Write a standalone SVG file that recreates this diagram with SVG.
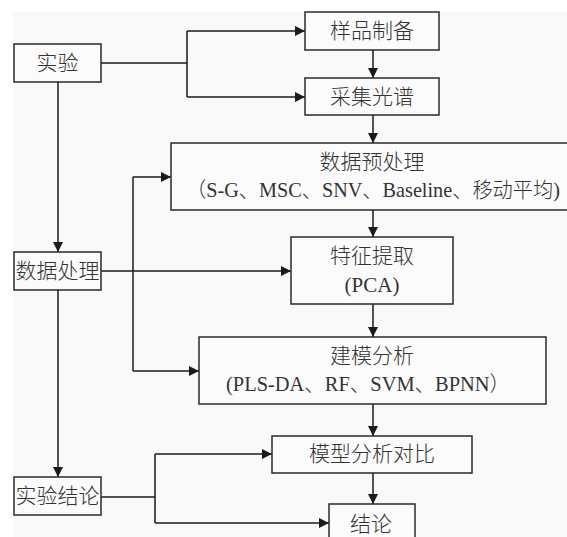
<svg xmlns="http://www.w3.org/2000/svg" width="567" height="537" viewBox="0 0 567 537">
<defs>
<marker id="ah" viewBox="0 0 10 10" refX="10" refY="5" markerWidth="10" markerHeight="10" markerUnits="userSpaceOnUse" orient="auto">
<path d="M0,0 L10,5 L0,10 Z" fill="#1a1a1a"/>
</marker>
<style>
.box{fill:#fbfbfb;stroke:#2a2a2a;stroke-width:1.5}
.t{font-family:"Liberation Serif","Noto Sans CJK SC",serif;font-size:21px;font-weight:300;fill:#333333;text-anchor:middle;dominant-baseline:central}
.c{fill:none;stroke:#1a1a1a;stroke-width:1.5}
</style>
</defs>
<rect x="0" y="0" width="567" height="537" fill="#ffffff"/>
<rect x="13" y="12" width="554" height="525" fill="#f9f9f9"/>
<g id="connectors">
<path class="c" d="M101,63 H187 M187,31 V97"/>
<path class="c" d="M187,31 H305" marker-end="url(#ah)"/>
<path class="c" d="M187,97 H305" marker-end="url(#ah)"/>
<path class="c" d="M58,82 V252" marker-end="url(#ah)"/>
<path class="c" d="M58,290 V477" marker-end="url(#ah)"/>
<path class="c" d="M373,50 V78" marker-end="url(#ah)"/>
<path class="c" d="M373,115 V143" marker-end="url(#ah)"/>
<path class="c" d="M373,210 V237" marker-end="url(#ah)"/>
<path class="c" d="M373,304 V337" marker-end="url(#ah)"/>
<path class="c" d="M373,404 V436" marker-end="url(#ah)"/>
<path class="c" d="M373,473 V504" marker-end="url(#ah)"/>
<path class="c" d="M101,271 H291" marker-end="url(#ah)"/>
<path class="c" d="M133,177 V371"/>
<path class="c" d="M133,177 H171" marker-end="url(#ah)"/>
<path class="c" d="M133,371 H199" marker-end="url(#ah)"/>
<path class="c" d="M101,497 H155 M155,454 V523"/>
<path class="c" d="M155,454 H272" marker-end="url(#ah)"/>
<path class="c" d="M155,523 H329" marker-end="url(#ah)"/>
</g>
<g id="n_shiyan"><rect class="box" x="14" y="44" width="87" height="38"/><text class="t" x="57.5" y="63">实验</text></g>
<g id="n_yangpin"><rect class="box" x="305" y="12" width="134" height="38"/><text class="t" x="372" y="31">样品制备</text></g>
<g id="n_caiji"><rect class="box" x="305" y="78" width="134" height="37"/><text class="t" x="372" y="97">采集光谱</text></g>
<g id="n_yuchuli"><rect class="box" x="171" y="143" width="410" height="67"/><text class="t" x="372" y="162">数据预处理</text><text class="t" x="373" y="190" textLength="374" lengthAdjust="spacingAndGlyphs">（S-G、MSC、SNV、Baseline、移动平均)</text></g>
<g id="n_tezheng"><rect class="box" x="291" y="237" width="162" height="67"/><text class="t" x="372" y="256">特征提取</text><text class="t" x="372" y="285">(PCA)</text></g>
<g id="n_shuju"><rect class="box" x="14" y="252" width="87" height="38"/><text class="t" x="57.5" y="271">数据处理</text></g>
<g id="n_jianmo"><rect class="box" x="199" y="337" width="347" height="67"/><text class="t" x="372" y="356">建模分析</text><text class="t" x="368" y="384" textLength="284" lengthAdjust="spacingAndGlyphs">(PLS-DA、RF、SVM、BPNN）</text></g>
<g id="n_moxing"><rect class="box" x="272" y="436" width="200" height="37"/><text class="t" x="372" y="454">模型分析对比</text></g>
<g id="n_shiyanjielun"><rect class="box" x="14" y="477" width="87" height="38"/><text class="t" x="57.5" y="496">实验结论</text></g>
<g id="n_jielun"><rect class="box" x="329" y="504" width="86" height="40"/><text class="t" x="371" y="524">结论</text></g>
</svg>
